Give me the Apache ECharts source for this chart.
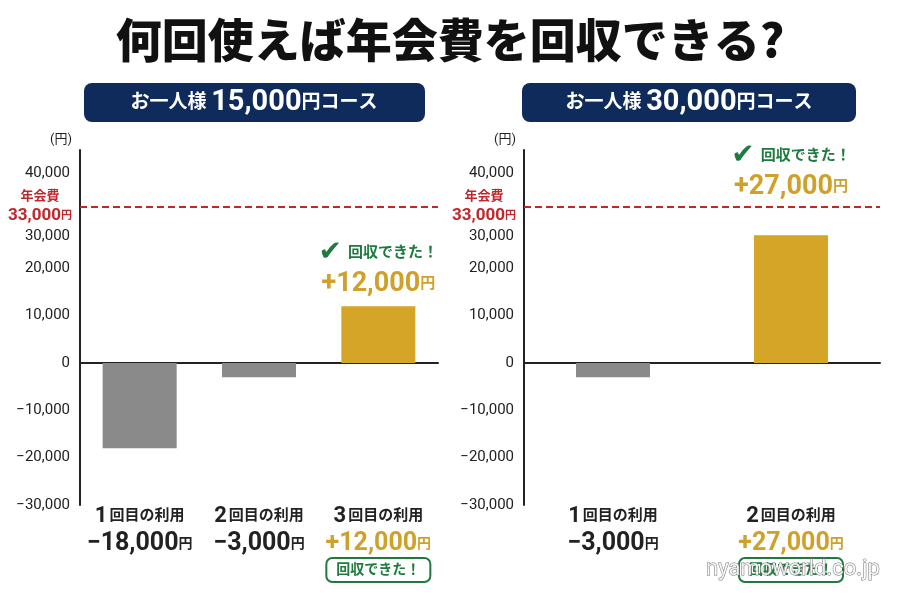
<!DOCTYPE html>
<html>
<head>
<meta charset="utf-8">
<script src="https://cdn.jsdelivr.net/npm/echarts@6/dist/echarts.min.js"></script>
<style>
  html, body { margin: 0; background: #fff; }
  #chart { width: 900px; height: 600px; }
</style>
</head>
<body>
<div id="chart"></div>
<script>
// data
const chartTitle = '何回使えば年会費を回収できる?';
const courseNames = ['15,000', '30,000'];
const annualFee = 33000;
const usesA = ['1', '2', '3'];
const netA = [-18000, -3000, 12000];
const usesB = ['1', '2'];
const netB = [-3000, 27000];
const yMin = -30000;
const yMax = 45000;
const yStep = 10000;

const FONT = "Roboto, 'Noto Sans CJK JP', sans-serif";
const GREEN = '#1f7a3f';
const GOLD = '#cfa12a';
const RED = '#c0272d';
const NAVY = '#0f2b5b';
const INK = '#222';

const chart = echarts.init(document.getElementById('chart'));

function money(v) {
  const s = Math.abs(v).toLocaleString('en-US');
  return (v < 0 ? '−' : v > 0 ? '+' : '') + s;
}

function tickText(v) {
  if (v % yStep !== 0) return '';
  const s = (v < 0 ? '−' : '') + Math.abs(v).toLocaleString('en-US');
  // the tick just under the fee line sits a little lower, as in the original
  return v === 30000 ? `{lo|${s}}` : s;
}

function yAxisFor(gridIndex) {
  return {
    type: 'value',
    gridIndex,
    min: yMin,
    max: yMax,
    interval: yStep,
    name: '(円)',
    nameLocation: 'end',
    nameGap: 4,
    nameTextStyle: { fontFamily: FONT, fontSize: 13, color: INK, align: 'right', padding: [0, 8, 0, 0] },
    axisLine: { show: true, lineStyle: { color: INK, width: 2 } },
    axisTick: { show: false },
    splitLine: { show: false },
    axisLabel: {
      fontFamily: FONT,
      fontSize: 15,
      color: INK,
      margin: 10,
      formatter: tickText,
      rich: { lo: { fontFamily: FONT, fontSize: 15, color: INK, padding: [30, 0, 0, 0] } }
    }
  };
}

const bottomRich = {
  n: { fontFamily: FONT, fontSize: 22, fontWeight: 'bold', color: INK, lineHeight: 22 },
  t: { fontFamily: FONT, fontSize: 15, fontWeight: 'bold', color: INK, lineHeight: 22, padding: [0, 0, 0, 2] },
  v: { fontFamily: FONT, fontSize: 25, fontWeight: 'bold', color: INK, lineHeight: 34 },
  y: { fontFamily: FONT, fontSize: 14, fontWeight: 'bold', color: INK, lineHeight: 34 },
  vp: { fontFamily: FONT, fontSize: 25, fontWeight: 'bold', color: GOLD, lineHeight: 34 },
  yp: { fontFamily: FONT, fontSize: 14, fontWeight: 'bold', color: GOLD, lineHeight: 34 },
  box: {
    fontFamily: FONT, fontSize: 14, fontWeight: 'bold', color: GREEN,
    borderColor: GREEN, borderWidth: 2, borderRadius: 6,
    padding: [5, 10], lineHeight: 18
  }
};

// x axis pair for one grid: line at zero + labels at the bottom
function xAxesFor(gridIndex, cats, vals) {
  return [
    {
      type: 'category', gridIndex, data: cats, position: 'bottom',
      axisLine: { onZero: true, lineStyle: { color: INK, width: 2 } },
      axisTick: { show: false },
      axisLabel: { show: false }
    },
    {
      type: 'category', gridIndex, data: cats, position: 'bottom',
      axisLine: { show: false, onZero: false },
      axisTick: { show: false },
      axisLabel: {
        margin: 0,
        interval: 0,
        formatter: (c, i) => {
          const v = vals[i];
          const line1 = `{n|${c}}{t|回目の利用}`;
          if (v > 0) return `${line1}\n{vp|${money(v)}}{yp|円}\n{box|回収できた！}`;
          return `${line1}\n{v|${money(v)}}{y|円}`;
        },
        rich: bottomRich
      }
    }
  ];
}

function barSeries(gridIndex, vals, labelGap) {
  return {
    type: 'bar',
    xAxisIndex: gridIndex * 2,
    yAxisIndex: gridIndex,
    barWidth: 74,
    data: vals.map((v) => ({
      value: v,
      itemStyle: { color: v > 0 ? '#d4a526' : '#8a8a8a' },
      label: { show: v > 0 }
    })),
    label: {
      position: 'top',
      distance: labelGap,
      formatter: (p) => `{ck|✔}{g|回収できた！}\n{p|${money(p.value)}}{py|円}`,
      rich: {
        ck: { fontFamily: 'DejaVu Sans', fontSize: 28, color: GREEN, lineHeight: 30, padding: [0, 6, 0, 0] },
        g: { fontFamily: FONT, fontSize: 15, fontWeight: 'bold', color: GREEN, lineHeight: 30 },
        p: { fontFamily: FONT, fontSize: 27, fontWeight: 'bold', color: GOLD, lineHeight: 32 },
        py: { fontFamily: FONT, fontSize: 15, fontWeight: 'bold', color: GOLD, lineHeight: 32 }
      }
    },
    markLine: {
      silent: true,
      symbol: 'none',
      lineStyle: { color: RED, type: [7, 4], width: 2 },
      label: {
        position: 'start',
        align: 'center',
        distance: 40,
        formatter: `{a|年会費}\n{b|${annualFee.toLocaleString('en-US')}}{c|円}`,
        rich: {
          a: { fontFamily: FONT, fontSize: 13, fontWeight: 'bold', color: RED, lineHeight: 18, align: 'center' },
          b: { fontFamily: FONT, fontSize: 17, fontWeight: 'bold', color: RED, lineHeight: 20 },
          c: { fontFamily: FONT, fontSize: 11, fontWeight: 'bold', color: RED, lineHeight: 20 }
        }
      },
      data: [{ yAxis: annualFee }]
    }
  };
}

// course header badges
function header(cx, x, w, course) {
  return {
    type: 'group',
    children: [
      { type: 'rect', shape: { x, y: 83, width: w, height: 39, r: 8 }, style: { fill: NAVY } },
      {
        type: 'text',
        x: cx, y: 103,
        style: {
          text: `{a|お一人様 }{b|${course}}{a|円コース}`,
          align: 'center', verticalAlign: 'middle',
          rich: {
            a: { fontFamily: FONT, fontSize: 19, fontWeight: 'bold', fill: '#fff' },
            b: { fontFamily: FONT, fontSize: 29, fontWeight: 'bold', fill: '#fff' }
          }
        }
      }
    ]
  };
}

chart.setOption({
  animation: false,
  backgroundColor: '#fff',
  title: {
    text: chartTitle,
    left: 'center',
    top: 12,
    textStyle: { fontFamily: "'Noto Sans CJK JP'", fontSize: 46, fontWeight: 900, color: '#111' }
  },
  grid: [
    { left: 80, top: 150, width: 358, height: 355 },
    { left: 524, top: 150, width: 356, height: 355 }
  ],
  xAxis: [...xAxesFor(0, usesA, netA), ...xAxesFor(1, usesB, netB)],
  yAxis: [yAxisFor(0), yAxisFor(1)],
  series: [barSeries(0, netA, 6), barSeries(1, netB, 32)],
  graphic: [
    header(254, 84, 341, courseNames[0]),
    header(689, 522, 334, courseNames[1]),
    {
      type: 'text',
      x: 706, y: 569,
      z: 100,
      style: {
        text: 'nyamoworld.co.jp',
        fontFamily: 'Roboto, sans-serif',
        fontSize: 22,
        fill: 'rgba(255,255,255,0.85)',
        stroke: '#777',
        lineWidth: 1,
        verticalAlign: 'middle'
      }
    }
  ]
});

window.addEventListener('resize', () => chart.resize());
</script>
</body>
</html>
